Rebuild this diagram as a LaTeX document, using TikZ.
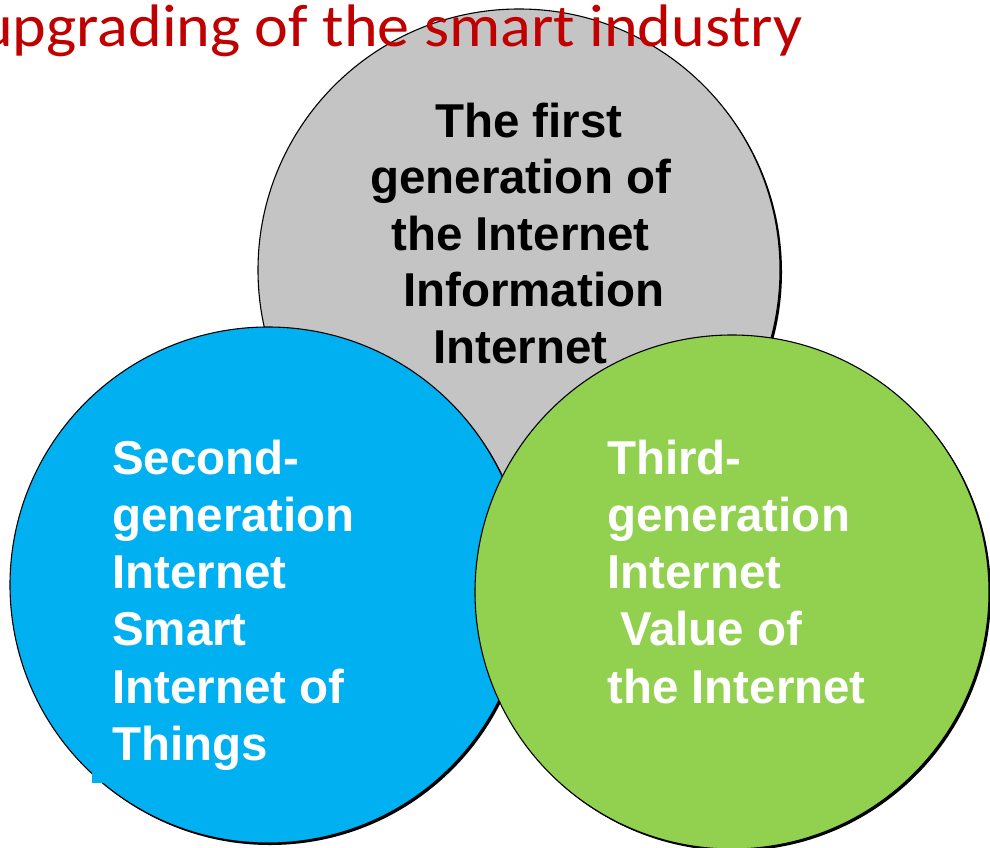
\documentclass[tikz,border=0pt]{standalone}
\usepackage{fontspec}
\setmainfont{Liberation Sans}
\newfontfamily\titlefont{Carlito}
\definecolor{cgray}{RGB}{196,196,196}
\definecolor{cblue}{RGB}{0,176,240}
\definecolor{cgreen}{RGB}{146,208,80}
\definecolor{cred}{RGB}{192,0,0}
\begin{document}
\begin{tikzpicture}[x=1pt,y=1pt,
  shadowc/.style={fill=black,draw=none},
  ring/.style={draw=black,line width=1.1pt},
  lbl/.style={inner sep=0pt,font=\fontsize{47.5}{57}\selectfont\bfseries},
  ttl/.style={inner sep=0pt,text=cred,font=\titlefont\fontsize{60}{66}\selectfont}]
\useasboundingbox (0,0) rectangle (990,-848);
% gray circle
\fill[shadowc] (521,-272) circle (261);
\path[ring,fill=cgray] (519,-270) circle (261);
% blue circle
\fill[shadowc] (270,-587) circle (258);
\path[ring,fill=cblue] (268,-585) circle (258);
\fill[cblue] (92,-765) rectangle (140,-783);
% green circle
\fill[shadowc] (734,-594) circle (257);
\path[ring,fill=cgreen] (732,-592) circle (257);
% gray text
\node[lbl,anchor=base west] (g1) at (435,-137) {The first};
\node[lbl,anchor=base west] (g2) at (370,-193) {generation of};
\node[lbl,anchor=base west] (g3) at (391,-250) {the Internet};
\node[lbl,anchor=base west] (g4) at (403,-306) {Information};
\node[lbl,anchor=base west] (g5) at (433,-363) {Internet};
% blue text
\node[lbl,text=white,anchor=base west] (b1) at (112,-474) {Second-};
\node[lbl,text=white,anchor=base west] (b2) at (112,-531) {generation};
\node[lbl,text=white,anchor=base west] (b3) at (112,-588) {Internet};
\node[lbl,text=white,anchor=base west] (b4) at (112,-645) {Smart};
\node[lbl,text=white,anchor=base west] (b5) at (112,-703) {Internet of};
\node[lbl,text=white,anchor=base west] (b6) at (112,-760) {Things};
% green text
\node[lbl,text=white,anchor=base west] (t1) at (607,-474) {Third-};
\node[lbl,text=white,anchor=base west] (t2) at (607,-531) {generation};
\node[lbl,text=white,anchor=base west] (t3) at (607,-588) {Internet};
\node[lbl,text=white,anchor=base west] (t4) at (620,-645) {Value of};
\node[lbl,text=white,anchor=base west] (t5) at (607,-703) {the Internet};
% title
\node[ttl,anchor=base east] (title) at (803,-47) {\scalebox{1.068}[1]{upgrading of the smart industry}};
\end{tikzpicture}
\end{document}
